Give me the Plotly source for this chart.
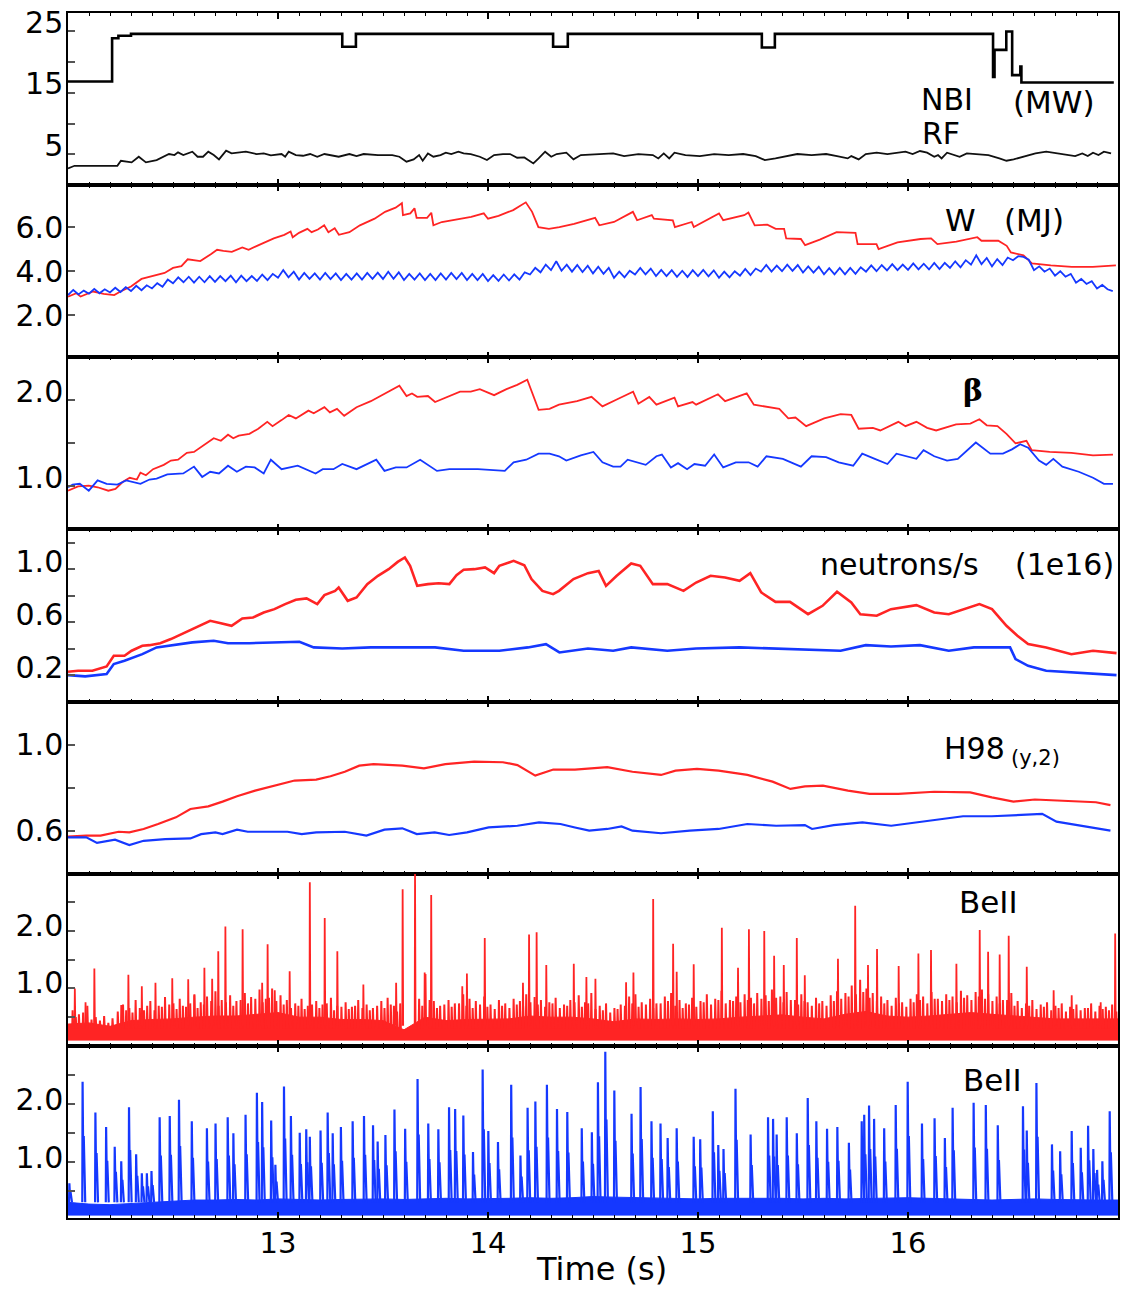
import numpy as np
import plotly.graph_objects as go
from plotly.subplots import make_subplots

FONT = "DejaVu Sans"
RED = "#ff2424"
BLUE = "#1538ff"

# ---------------- Panel 1: NBI / RF (MW) ----------------
nbi_t = [12.0, 12.21, 12.24, 12.30, 13.306, 13.371, 14.31, 14.38, 15.304, 15.366,
         16.405, 16.412, 16.468, 16.496, 16.535, 16.540, 16.98]
nbi_v = [16.85, 23.9, 24.3, 24.6, 22.5, 24.6, 22.5, 24.6, 22.4, 24.6,
         17.6, 22.0, 25.0, 17.9, 19.3, 16.7, 16.7]

rf_t = [12.000, 12.031, 12.116, 12.235, 12.252, 12.303, 12.337, 12.371, 12.422, 12.456,
        12.481, 12.507, 12.524, 12.549, 12.592, 12.617, 12.643, 12.668, 12.694, 12.719,
        12.753, 12.779, 12.813, 12.847, 12.898, 12.932, 12.966, 13.017, 13.034, 13.051,
        13.085, 13.119, 13.153, 13.187, 13.221, 13.272, 13.289, 13.340, 13.374, 13.408,
        13.476, 13.544, 13.578, 13.612, 13.646, 13.672, 13.689, 13.714, 13.740, 13.774,
        13.799, 13.825, 13.859, 13.884, 13.918, 13.961, 13.995, 14.029, 14.071, 14.105,
        14.139, 14.173, 14.216, 14.241, 14.272, 14.301, 14.327, 14.373, 14.407, 14.442,
        14.510, 14.596, 14.648, 14.716, 14.785, 14.811, 14.837, 14.863, 14.888, 14.940,
        15.009, 15.077, 15.146, 15.215, 15.275, 15.318, 15.369, 15.421, 15.473, 15.541,
        15.610, 15.662, 15.713, 15.730, 15.765, 15.799, 15.851, 15.902, 15.954, 15.988,
        16.022, 16.057, 16.091, 16.125, 16.143, 16.160, 16.186, 16.220, 16.246, 16.280,
        16.332, 16.383, 16.435, 16.469, 16.503, 16.555, 16.607, 16.658, 16.710, 16.761,
        16.796, 16.830, 16.856, 16.881, 16.907, 16.933, 16.967]
rf_v = [2.72, 3.15, 3.15, 3.15, 3.97, 3.70, 4.62, 3.70, 4.08, 4.62,
        5.06, 4.89, 5.33, 4.89, 5.44, 4.62, 4.62, 5.44, 4.89, 4.19,
        5.60, 5.17, 5.28, 5.44, 5.06, 5.17, 4.84, 5.06, 4.62, 5.44,
        4.89, 4.78, 5.06, 4.62, 5.06, 4.73, 4.62, 5.06, 4.73, 5.06,
        4.89, 4.89, 4.62, 3.81, 4.19, 4.89, 3.97, 5.17, 4.62, 4.89,
        5.28, 5.06, 5.44, 5.17, 5.06, 4.62, 4.08, 4.89, 5.06, 5.06,
        4.46, 4.51, 3.54, 4.35, 5.44, 4.62, 5.06, 5.28, 4.19, 4.89,
        5.06, 5.17, 4.73, 5.06, 4.89, 4.35, 5.17, 4.35, 5.28, 4.89,
        4.73, 5.06, 4.89, 5.06, 4.73, 4.08, 4.35, 4.73, 5.06, 4.89,
        5.06, 4.73, 4.35, 4.73, 4.19, 5.06, 5.28, 5.06, 5.28, 5.44,
        5.06, 5.55, 5.28, 4.62, 4.89, 4.35, 5.28, 4.89, 4.62, 5.17,
        5.06, 4.89, 4.35, 3.97, 4.19, 4.62, 5.17, 5.44, 5.17, 4.89,
        4.73, 5.17, 4.73, 5.28, 4.89, 5.44, 5.17]

# ---------------- Panel 2: W (MJ) ----------------
w_red_t = [12.00, 12.04, 12.06, 12.12, 12.17, 12.22, 12.25, 12.30, 12.35, 12.40,
           12.46, 12.50, 12.54, 12.57, 12.63, 12.68, 12.71, 12.74, 12.78, 12.83,
           12.86, 12.90, 12.95, 12.98, 13.03, 13.06, 13.07, 13.10, 13.14, 13.16,
           13.19, 13.22, 13.24, 13.27, 13.29, 13.34, 13.39, 13.46, 13.51, 13.56,
           13.59, 13.595, 13.63, 13.65, 13.66, 13.71, 13.73, 13.74, 13.78, 13.85,
           13.92, 13.98, 14.00, 14.05, 14.12, 14.18, 14.21, 14.24, 14.29, 14.34,
           14.41, 14.51, 14.53, 14.60, 14.69, 14.71, 14.78, 14.79, 14.88, 14.89,
           14.97, 14.98, 15.10, 15.12, 15.22, 15.24, 15.27, 15.33, 15.37, 15.41,
           15.42, 15.49, 15.51, 15.58, 15.66, 15.75, 15.76, 15.85, 15.86, 15.95,
           16.06, 16.11, 16.14, 16.23, 16.33, 16.35, 16.43, 16.47, 16.49, 16.55,
           16.59, 16.68, 16.78, 16.88, 16.99]
w_red_v = [2.85, 3.00, 2.85, 3.08, 2.97, 2.92, 3.08, 3.31, 3.65, 3.77,
           3.92, 4.15, 4.23, 4.54, 4.46, 4.77, 4.97, 4.92, 4.88, 5.08,
           4.97, 5.15, 5.38, 5.49, 5.65, 5.80, 5.54, 5.74, 5.92, 5.77,
           5.89, 6.08, 5.77, 5.95, 5.65, 5.77, 6.08, 6.38, 6.69, 6.88,
           7.08, 6.54, 6.62, 6.85, 6.42, 6.42, 6.65, 6.08, 6.23, 6.35,
           6.46, 6.62, 6.38, 6.51, 6.77, 7.12, 6.69, 6.00, 5.92, 6.00,
           6.15, 6.42, 6.08, 6.23, 6.69, 6.31, 6.54, 6.38, 6.31, 6.00,
           6.23, 6.00, 6.62, 6.31, 6.54, 6.66, 6.08, 6.11, 5.92, 5.92,
           5.49, 5.46, 5.18, 5.43, 5.77, 5.74, 5.23, 5.23, 5.00, 5.31,
           5.46, 5.49, 5.23, 5.34, 5.54, 5.38, 5.38, 5.15, 4.85, 4.72,
           4.35, 4.26, 4.20, 4.20, 4.26]

# blue W sampled every 0.025 s from 12.000 to 16.975
w_blue_v = [2.92, 3.15, 2.95, 3.12, 2.98, 3.20, 3.00, 3.18, 3.04, 3.25, 3.06, 3.28,
            3.10, 3.34, 3.14, 3.36, 3.22, 3.46, 3.30, 3.62, 3.45, 3.72, 3.50, 3.75,
            3.48, 3.75, 3.50, 3.78, 3.52, 3.78, 3.55, 3.80, 3.50, 3.80, 3.55, 3.78,
            3.56, 3.85, 3.60, 3.88, 3.70, 4.05, 3.72, 3.98, 3.62, 3.92, 3.65, 3.90,
            3.62, 3.92, 3.64, 3.90, 3.60, 3.88, 3.62, 3.90, 3.62, 3.92, 3.65, 3.93,
            3.65, 3.98, 3.66, 3.95, 3.60, 3.88, 3.62, 3.90, 3.60, 3.88, 3.60, 3.90,
            3.62, 3.92, 3.64, 3.92, 3.60, 3.88, 3.60, 3.88, 3.55, 3.82, 3.56, 3.85,
            3.58, 3.86, 3.62, 3.95, 3.85, 4.15, 3.95, 4.30, 4.05, 4.45, 4.02, 4.30,
            3.98, 4.28, 3.96, 4.25, 3.90, 4.20, 3.88, 4.15, 3.70, 3.98, 3.72, 4.02,
            3.85, 4.15, 3.86, 4.12, 3.78, 4.06, 3.78, 4.05, 3.75, 4.02, 3.74, 4.05,
            3.78, 4.06, 3.77, 4.04, 3.70, 3.98, 3.72, 4.00, 3.80, 4.10, 3.82, 4.12,
            3.98, 4.28, 3.98, 4.25, 4.00, 4.30, 4.02, 4.28, 3.94, 4.22, 3.94, 4.20,
            3.86, 4.14, 3.86, 4.15, 3.86, 4.15, 3.88, 4.18, 3.98, 4.26, 4.00, 4.28,
            4.04, 4.32, 4.05, 4.30, 4.06, 4.35, 4.08, 4.34, 4.08, 4.38, 4.10, 4.38,
            4.15, 4.45, 4.18, 4.50, 4.30, 4.72, 4.32, 4.60, 4.22, 4.55, 4.28, 4.62,
            4.50, 4.68, 4.65, 4.52, 4.05, 4.22, 3.98, 4.12, 3.80, 4.00, 3.75, 3.88,
            3.48, 3.65, 3.42, 3.55, 3.22, 3.38, 3.18, 3.10]
w_blue_t = list(np.round(12.0 + 0.025 * np.arange(len(w_blue_v)), 3))

# ---------------- Panel 3: beta ----------------
beta_red_t = [12.000, 12.048, 12.099, 12.141, 12.192, 12.226, 12.260, 12.294, 12.328, 12.345,
              12.371, 12.405, 12.456, 12.490, 12.524, 12.566, 12.600, 12.651, 12.694, 12.728,
              12.762, 12.787, 12.813, 12.864, 12.906, 12.949, 12.974, 13.017, 13.051, 13.085,
              13.145, 13.170, 13.221, 13.247, 13.281, 13.315, 13.374, 13.442, 13.510, 13.578,
              13.612, 13.638, 13.663, 13.714, 13.748, 13.799, 13.867, 13.918, 13.961, 14.029,
              14.088, 14.139, 14.187, 14.241, 14.293, 14.338, 14.424, 14.493, 14.545, 14.613,
              14.691, 14.716, 14.768, 14.802, 14.888, 14.905, 14.974, 14.991, 15.095, 15.129,
              15.232, 15.266, 15.318, 15.387, 15.430, 15.464, 15.515, 15.601, 15.679, 15.730,
              15.765, 15.833, 15.868, 15.954, 15.988, 16.040, 16.091, 16.134, 16.229, 16.297,
              16.340, 16.375, 16.426, 16.469, 16.512, 16.564, 16.589, 16.675, 16.778, 16.881,
              16.976]
beta_red_v = [0.95, 1.00, 1.01, 0.99, 0.95, 0.97, 1.05, 1.10, 1.08, 1.16,
              1.13, 1.20, 1.25, 1.30, 1.31, 1.39, 1.40, 1.49, 1.56, 1.53,
              1.60, 1.56, 1.59, 1.61, 1.67, 1.75, 1.70, 1.77, 1.83, 1.79,
              1.88, 1.85, 1.92, 1.86, 1.90, 1.82, 1.92, 1.99, 2.08, 2.17,
              2.05, 2.08, 2.04, 2.05, 1.98, 2.03, 2.10, 2.10, 2.13, 2.06,
              2.13, 2.18, 2.24, 1.89, 1.90, 1.95, 1.99, 2.04, 1.93, 2.01,
              2.10, 1.96, 2.04, 1.95, 2.03, 1.93, 1.98, 1.95, 2.07, 1.99,
              2.08, 1.95, 1.93, 1.90, 1.79, 1.80, 1.70, 1.79, 1.84, 1.83,
              1.67, 1.68, 1.65, 1.75, 1.70, 1.75, 1.68, 1.65, 1.72, 1.73,
              1.78, 1.71, 1.70, 1.61, 1.50, 1.53, 1.42, 1.40, 1.39, 1.36,
              1.37]
beta_blue_t = [12.000, 12.022, 12.056, 12.099, 12.141, 12.184, 12.235, 12.277, 12.345, 12.388,
               12.422, 12.473, 12.549, 12.600, 12.639, 12.677, 12.719, 12.762, 12.804, 12.847,
               12.889, 12.932, 12.966, 13.017, 13.094, 13.179, 13.213, 13.264, 13.306, 13.374,
               13.468, 13.507, 13.561, 13.612, 13.677, 13.757, 13.816, 13.884, 13.952, 14.080,
               14.122, 14.182, 14.241, 14.293, 14.338, 14.373, 14.442, 14.502, 14.545, 14.596,
               14.631, 14.665, 14.751, 14.802, 14.828, 14.871, 14.905, 14.948, 14.983, 15.034,
               15.077, 15.120, 15.180, 15.241, 15.284, 15.326, 15.404, 15.490, 15.541, 15.610,
               15.670, 15.739, 15.782, 15.842, 15.902, 15.945, 15.988, 16.040, 16.074, 16.125,
               16.186, 16.237, 16.323, 16.392, 16.452, 16.495, 16.534, 16.572, 16.624, 16.658,
               16.692, 16.735, 16.813, 16.881, 16.933, 16.976]
beta_blue_v = [0.99, 1.02, 1.03, 0.95, 1.07, 1.03, 1.02, 1.07, 1.03, 1.08,
               1.09, 1.14, 1.15, 1.23, 1.11, 1.17, 1.15, 1.24, 1.17, 1.23,
               1.22, 1.15, 1.31, 1.20, 1.24, 1.15, 1.20, 1.20, 1.26, 1.20,
               1.31, 1.18, 1.22, 1.22, 1.31, 1.18, 1.20, 1.20, 1.20, 1.18,
               1.28, 1.31, 1.38, 1.38, 1.35, 1.30, 1.36, 1.40, 1.28, 1.23,
               1.23, 1.31, 1.25, 1.35, 1.37, 1.22, 1.27, 1.20, 1.26, 1.24,
               1.37, 1.22, 1.28, 1.28, 1.23, 1.35, 1.32, 1.23, 1.35, 1.34,
               1.28, 1.24, 1.38, 1.32, 1.26, 1.38, 1.35, 1.32, 1.42, 1.35,
               1.30, 1.32, 1.51, 1.38, 1.38, 1.43, 1.49, 1.45, 1.30, 1.25,
               1.32, 1.23, 1.17, 1.10, 1.03, 1.03]

# ---------------- Panel 4: neutrons/s (1e16) ----------------
neut_red_t = [12.000, 12.048, 12.116, 12.184, 12.218, 12.269, 12.303, 12.354, 12.388, 12.439,
              12.490, 12.524, 12.575, 12.626, 12.677, 12.728, 12.779, 12.830, 12.881, 12.932,
              12.983, 13.034, 13.085, 13.136, 13.187, 13.221, 13.272, 13.289, 13.332, 13.374,
              13.425, 13.476, 13.527, 13.570, 13.604, 13.629, 13.663, 13.714, 13.765, 13.816,
              13.850, 13.884, 13.935, 13.986, 14.029, 14.054, 14.122, 14.173, 14.207, 14.259,
              14.310, 14.338, 14.407, 14.476, 14.527, 14.562, 14.613, 14.682, 14.725, 14.785,
              14.854, 14.931, 14.991, 15.060, 15.129, 15.198, 15.249, 15.301, 15.369, 15.438,
              15.524, 15.593, 15.662, 15.730, 15.773, 15.851, 15.919, 16.040, 16.125, 16.194,
              16.263, 16.340, 16.400, 16.469, 16.521, 16.572, 16.658, 16.778, 16.881, 16.993]
neut_red_v = [0.225, 0.233, 0.233, 0.265, 0.346, 0.346, 0.384, 0.421, 0.426, 0.441,
              0.472, 0.497, 0.535, 0.567, 0.610, 0.592, 0.572, 0.628, 0.635, 0.673,
              0.698, 0.736, 0.769, 0.779, 0.736, 0.804, 0.836, 0.862, 0.761, 0.786,
              0.887, 0.950, 1.000, 1.055, 1.088, 1.025, 0.874, 0.887, 0.894, 0.887,
              0.955, 0.995, 1.000, 1.013, 0.970, 1.025, 1.063, 1.030, 0.925, 0.836,
              0.811, 0.836, 0.925, 0.970, 0.987, 0.874, 0.950, 1.043, 1.025, 0.887,
              0.887, 0.836, 0.899, 0.950, 0.937, 0.912, 0.970, 0.824, 0.753, 0.753,
              0.660, 0.723, 0.829, 0.748, 0.660, 0.648, 0.698, 0.728, 0.673, 0.660,
              0.698, 0.736, 0.698, 0.572, 0.497, 0.434, 0.409, 0.358, 0.384, 0.366]
neut_blue_t = [12.000, 12.082, 12.184, 12.218, 12.269, 12.354, 12.422, 12.490, 12.592, 12.694,
               12.762, 12.864, 12.966, 13.102, 13.170, 13.306, 13.442, 13.544, 13.646, 13.748,
               13.884, 14.054, 14.190, 14.276, 14.340, 14.476, 14.596, 14.682, 14.854, 14.991,
               15.198, 15.369, 15.541, 15.679, 15.799, 15.919, 16.057, 16.194, 16.314, 16.486,
               16.512, 16.572, 16.658, 16.778, 16.881, 16.993]
neut_blue_v = [0.200, 0.190, 0.208, 0.283, 0.308, 0.358, 0.409, 0.426, 0.447, 0.459,
               0.441, 0.441, 0.447, 0.452, 0.409, 0.401, 0.409, 0.409, 0.409, 0.409,
               0.384, 0.384, 0.409, 0.434, 0.371, 0.401, 0.384, 0.409, 0.384, 0.401,
               0.409, 0.401, 0.396, 0.384, 0.426, 0.416, 0.426, 0.384, 0.409, 0.409,
               0.321, 0.270, 0.233, 0.220, 0.208, 0.200]

# ---------------- Panel 5: H98(y,2) ----------------
h98_red_t = [12.000, 12.087, 12.155, 12.241, 12.292, 12.360, 12.429, 12.514, 12.583, 12.668,
             12.736, 12.805, 12.891, 12.976, 13.079, 13.182, 13.250, 13.318, 13.387, 13.455,
             13.592, 13.695, 13.797, 13.934, 14.071, 14.140, 14.225, 14.311, 14.414, 14.568,
             14.688, 14.824, 14.893, 14.995, 15.098, 15.235, 15.355, 15.440, 15.509, 15.595,
             15.714, 15.817, 15.954, 16.125, 16.296, 16.399, 16.502, 16.604, 16.707, 16.810,
             16.895, 16.964]
h98_red_v = [0.572, 0.577, 0.577, 0.595, 0.592, 0.608, 0.631, 0.662, 0.701, 0.713,
             0.735, 0.760, 0.786, 0.806, 0.833, 0.837, 0.853, 0.874, 0.902, 0.909,
             0.902, 0.890, 0.909, 0.921, 0.918, 0.905, 0.856, 0.884, 0.884, 0.895,
             0.874, 0.859, 0.879, 0.887, 0.879, 0.859, 0.828, 0.794, 0.806, 0.809,
             0.786, 0.771, 0.771, 0.781, 0.778, 0.755, 0.735, 0.745, 0.740, 0.735,
             0.732, 0.719]
h98_blue_t = [12.000, 12.087, 12.138, 12.224, 12.292, 12.360, 12.463, 12.583, 12.634, 12.702,
              12.736, 12.805, 12.856, 12.942, 13.045, 13.113, 13.182, 13.318, 13.421, 13.507,
              13.592, 13.661, 13.746, 13.815, 13.900, 14.003, 14.140, 14.243, 14.345, 14.414,
              14.482, 14.568, 14.636, 14.688, 14.824, 14.961, 15.098, 15.235, 15.372, 15.509,
              15.543, 15.646, 15.783, 15.920, 16.057, 16.262, 16.399, 16.536, 16.639, 16.707,
              16.810, 16.964]
h98_blue_v = [0.569, 0.569, 0.543, 0.558, 0.533, 0.553, 0.561, 0.564, 0.584, 0.592,
              0.584, 0.605, 0.595, 0.595, 0.595, 0.584, 0.592, 0.595, 0.577, 0.605,
              0.611, 0.584, 0.592, 0.580, 0.592, 0.615, 0.623, 0.639, 0.631, 0.615,
              0.600, 0.608, 0.620, 0.600, 0.588, 0.600, 0.608, 0.631, 0.623, 0.626,
              0.608, 0.626, 0.639, 0.623, 0.642, 0.667, 0.667, 0.673, 0.678, 0.642,
              0.626, 0.600]

# ---------------- Panel 6: BeII (red) ----------------
band_t = list(np.round(np.linspace(12.0, 17.0, 51), 2))
bell_red_band = [0.38, 0.40, 0.34, 0.44, 0.46, 0.47, 0.50, 0.52, 0.52, 0.55,
                 0.58, 0.50, 0.50, 0.46, 0.46, 0.44, 0.28, 0.50, 0.44, 0.46,
                 0.47, 0.47, 0.52, 0.50, 0.50, 0.47, 0.42, 0.47, 0.46, 0.47,
                 0.46, 0.47, 0.50, 0.52, 0.54, 0.50, 0.47, 0.55, 0.60, 0.52,
                 0.50, 0.52, 0.55, 0.58, 0.55, 0.52, 0.50, 0.47, 0.47, 0.47, 0.47]
bell_red_floor = 0.10
bell_red_spk_t = [12.031, 12.082, 12.124, 12.252, 12.286, 12.350, 12.415, 12.495, 12.571, 12.600,
                  12.648, 12.685, 12.714, 12.748, 12.830, 12.923, 12.949, 12.983, 13.054, 13.150,
                  13.221, 13.281, 13.405, 13.561, 13.592, 13.651, 13.697, 13.728, 13.876, 13.898,
                  13.983, 14.165, 14.194, 14.230, 14.276, 14.407, 14.467, 14.510, 14.656, 14.691,
                  14.785, 14.880, 14.897, 14.978, 15.112, 15.189, 15.241, 15.314, 15.361, 15.407,
                  15.469, 15.507, 15.665, 15.747, 15.808, 15.851, 15.954, 16.048, 16.108, 16.229,
                  16.340, 16.380, 16.435, 16.478, 16.564, 16.692, 16.778, 16.916, 16.985]
bell_red_spk_h = [1.00, 0.76, 1.35, 0.71, 1.24, 1.04, 1.10, 1.18, 1.16, 0.88,
                  1.36, 1.17, 1.65, 2.08, 2.03, 1.10, 1.77, 0.97, 1.30, 2.85,
                  2.23, 1.65, 1.07, 1.10, 2.73, 3.05, 1.28, 2.63, 1.04, 1.26,
                  1.88, 1.10, 1.94, 1.98, 1.41, 1.43, 1.20, 1.17, 1.11, 1.28,
                  2.56, 1.78, 1.29, 1.42, 2.06, 1.36, 2.03, 2.00, 1.57, 1.41,
                  1.88, 1.23, 1.52, 2.44, 1.41, 1.69, 1.39, 1.61, 1.67, 1.43,
                  2.02, 1.64, 1.59, 1.92, 1.38, 0.97, 0.88, 0.76, 1.96]
bell_red_hair_t = [12.02, 12.05, 12.09, 12.13, 12.17, 12.21, 12.26, 12.29, 12.32, 12.36,
                   12.39, 12.43, 12.46, 12.50, 12.53, 12.56, 12.60, 12.63, 12.66, 12.70,
                   12.73, 12.77, 12.80, 12.84, 12.87, 12.91, 12.94, 12.97, 13.01, 13.04,
                   13.08, 13.11, 13.14, 13.18, 13.21, 13.25, 13.28, 13.32, 13.35, 13.38,
                   13.42, 13.45, 13.49, 13.52, 13.55, 13.58, 13.67, 13.70, 13.74, 13.77,
                   13.81, 13.84, 13.88, 13.91, 13.94, 13.98, 14.01, 14.05, 14.08, 14.12,
                   14.15, 14.18, 14.22, 14.25, 14.29, 14.32, 14.36, 14.39, 14.43, 14.46,
                   14.49, 14.53, 14.56, 14.60, 14.63, 14.67, 14.70, 14.73, 14.77, 14.80,
                   14.84, 14.87, 14.91, 14.94, 14.97, 15.01, 15.04, 15.08, 15.11, 15.15,
                   15.18, 15.22, 15.25, 15.28, 15.32, 15.35, 15.39, 15.42, 15.46, 15.49,
                   15.52, 15.56, 15.59, 15.63, 15.66, 15.70, 15.73, 15.77, 15.80, 15.83,
                   15.87, 15.90, 15.94, 15.97, 16.01, 16.04, 16.07, 16.11, 16.14, 16.18,
                   16.21, 16.25, 16.28, 16.32, 16.35, 16.38, 16.42, 16.45, 16.49, 16.52,
                   16.56, 16.59, 16.63, 16.66, 16.70, 16.73, 16.77, 16.80, 16.84, 16.87,
                   16.91, 16.94, 16.97]
bell_red_hair_h = [0.62, 0.55, 0.70, 0.50, 0.52, 0.48, 0.72, 0.66, 0.80, 0.62,
                   0.78, 0.70, 0.85, 0.74, 0.82, 0.68, 0.90, 0.76, 0.86, 0.95,
                   0.80, 0.88, 0.78, 0.92, 0.85, 0.98, 0.82, 1.00, 0.88, 0.80,
                   0.74, 0.82, 0.70, 0.78, 0.72, 0.84, 0.70, 0.76, 0.68, 0.80,
                   0.72, 0.66, 0.78, 0.84, 0.70, 0.74, 0.82, 1.25, 0.78, 0.70,
                   0.80, 0.74, 0.90, 0.82, 0.78, 0.86, 0.72, 0.80, 0.74, 0.82,
                   0.78, 0.90, 0.85, 0.80, 0.76, 0.84, 0.72, 0.80, 0.88, 0.76,
                   0.92, 0.70, 0.74, 0.66, 0.72, 0.86, 0.90, 0.76, 0.82, 0.74,
                   0.86, 0.92, 0.80, 0.74, 0.84, 0.78, 0.90, 0.82, 0.96, 0.80,
                   0.86, 0.90, 0.84, 0.92, 0.88, 0.98, 0.86, 0.94, 0.80, 0.90,
                   0.76, 0.84, 0.78, 0.88, 0.95, 0.92, 1.05, 1.15, 1.00, 0.92,
                   0.86, 0.80, 0.84, 0.76, 0.82, 0.90, 0.86, 0.94, 0.82, 0.90,
                   0.86, 0.96, 0.88, 0.94, 0.98, 0.90, 0.86, 0.80, 0.92, 0.78,
                   0.74, 0.80, 0.72, 0.76, 0.70, 0.74, 0.68, 0.72, 0.66, 0.74,
                   0.70, 0.68, 0.72]
bell_red_hair2_t = [12.035, 12.07, 12.11, 12.15, 12.19, 12.235, 12.275, 12.305, 12.34, 12.375,
                    12.41, 12.445, 12.48, 12.515, 12.545, 12.58, 12.615, 12.645, 12.68, 12.715,
                    12.75, 12.785, 12.82, 12.855, 12.89, 12.925, 12.955, 12.99, 13.025, 13.06,
                    13.095, 13.125, 13.16, 13.195, 13.23, 13.265, 13.30, 13.335, 13.365, 13.40,
                    13.435, 13.47, 13.505, 13.535, 13.565, 13.685, 13.72, 13.755, 13.79, 13.825,
                    13.86, 13.895, 13.925, 13.96, 13.995, 14.03, 14.065, 14.10, 14.135, 14.165,
                    14.20, 14.235, 14.27, 14.305, 14.34, 14.375, 14.41, 14.445, 14.475, 14.51,
                    14.545, 14.58, 14.615, 14.65, 14.685, 14.715, 14.75, 14.785, 14.82, 14.855,
                    14.89, 14.925, 14.955, 14.99, 15.025, 15.06, 15.095, 15.13, 15.165, 15.20,
                    15.235, 15.265, 15.30, 15.335, 15.37, 15.405, 15.44, 15.475, 15.505, 15.54,
                    15.575, 15.61, 15.645, 15.68, 15.715, 15.75, 15.785, 15.815, 15.85, 15.885,
                    15.92, 15.955, 15.99, 16.025, 16.055, 16.09, 16.125, 16.16, 16.195, 16.23,
                    16.265, 16.30, 16.335, 16.365, 16.40, 16.435, 16.47, 16.505, 16.54, 16.575,
                    16.61, 16.645, 16.68, 16.715, 16.75, 16.785, 16.82, 16.855, 16.89, 16.925,
                    16.955, 16.99]
bell_red_hair2_h = [0.50, 0.58, 0.46, 0.44, 0.40, 0.60, 0.62, 0.58, 0.66, 0.70,
                    0.62, 0.68, 0.72, 0.64, 0.70, 0.74, 0.66, 0.72, 0.78, 0.70,
                    0.76, 0.70, 0.80, 0.74, 0.82, 0.76, 0.84, 0.78, 0.72, 0.66,
                    0.70, 0.64, 0.72, 0.66, 0.74, 0.62, 0.68, 0.64, 0.70, 0.66,
                    0.62, 0.70, 0.66, 0.72, 0.60, 0.70, 0.80, 0.66, 0.72, 0.68,
                    0.74, 0.70, 0.66, 0.72, 0.68, 0.64, 0.70, 0.66, 0.72, 0.70,
                    0.76, 0.72, 0.68, 0.74, 0.66, 0.70, 0.76, 0.68, 0.74, 0.64,
                    0.62, 0.58, 0.64, 0.70, 0.74, 0.68, 0.72, 0.66, 0.74, 0.78,
                    0.70, 0.66, 0.72, 0.68, 0.76, 0.72, 0.80, 0.74, 0.78, 0.76,
                    0.80, 0.74, 0.82, 0.78, 0.84, 0.76, 0.80, 0.72, 0.78, 0.70,
                    0.74, 0.70, 0.78, 0.82, 0.86, 0.90, 0.94, 0.84, 0.78, 0.74,
                    0.70, 0.74, 0.68, 0.76, 0.80, 0.74, 0.82, 0.78, 0.80, 0.76,
                    0.84, 0.80, 0.86, 0.82, 0.78, 0.74, 0.80, 0.70, 0.66, 0.70,
                    0.64, 0.68, 0.62, 0.66, 0.60, 0.64, 0.62, 0.66, 0.60, 0.64,
                    0.62, 0.60]

# ---------------- Panel 7: BeII (blue, ELMs) ----------------
bell_blue_band = [0.30, 0.27, 0.26, 0.28, 0.30, 0.32, 0.34, 0.34, 0.35, 0.34,
                  0.36, 0.35, 0.34, 0.35, 0.36, 0.36, 0.35, 0.36, 0.37, 0.36,
                  0.36, 0.37, 0.38, 0.37, 0.38, 0.40, 0.39, 0.38, 0.38, 0.37,
                  0.36, 0.37, 0.37, 0.38, 0.37, 0.36, 0.37, 0.36, 0.37, 0.37,
                  0.38, 0.37, 0.36, 0.35, 0.34, 0.35, 0.36, 0.35, 0.34, 0.34, 0.34]
bell_blue_floor = 0.08
elm_t = [12.005, 12.068, 12.129, 12.180, 12.221, 12.252, 12.289, 12.323, 12.350, 12.374,
         12.396, 12.435, 12.483, 12.527, 12.588, 12.660, 12.701, 12.759, 12.786, 12.844,
         12.898, 12.923, 12.966, 12.986, 13.027, 13.060, 13.102, 13.133, 13.150, 13.201,
         13.235, 13.259, 13.298, 13.354, 13.408, 13.451, 13.473, 13.510, 13.553, 13.604,
         13.663, 13.714, 13.762, 13.813, 13.842, 13.881, 13.927, 13.973, 14.000, 14.046,
         14.109, 14.153, 14.187, 14.224, 14.279, 14.327, 14.376, 14.445, 14.493, 14.522,
         14.557, 14.600, 14.682, 14.725, 14.777, 14.820, 14.854, 14.897, 14.978, 15.009,
         15.069, 15.095, 15.120, 15.177, 15.249, 15.332, 15.356, 15.373, 15.421, 15.469,
         15.521, 15.562, 15.613, 15.662, 15.717, 15.778, 15.790, 15.813, 15.837, 15.885,
         15.940, 15.997, 16.065, 16.125, 16.174, 16.211, 16.311, 16.369, 16.426, 16.546,
         16.564, 16.610, 16.684, 16.723, 16.778, 16.821, 16.856, 16.881, 16.899, 16.924,
         16.959]
elm_h = [0.63, 2.38, 1.85, 1.60, 1.26, 1.01, 1.94, 1.13, 0.80, 0.80,
         0.84, 1.77, 1.79, 2.07, 1.70, 1.58, 1.66, 1.77, 1.49, 1.81,
         2.19, 2.03, 1.71, 0.95, 2.30, 1.79, 1.50, 1.56, 1.43, 1.54,
         1.85, 1.49, 1.60, 1.70, 1.79, 1.63, 1.35, 1.46, 1.90, 1.57,
         2.43, 1.66, 1.56, 1.94, 1.91, 1.80, 1.17, 2.59, 1.53, 1.34,
         2.33, 1.11, 1.93, 2.04, 2.33, 1.91, 1.86, 1.58, 1.51, 2.37,
         2.90, 2.23, 1.83, 2.29, 1.70, 1.66, 1.41, 1.58, 1.43, 1.39,
         1.87, 1.29, 1.22, 2.26, 1.47, 1.77, 1.74, 1.47, 1.77, 1.49,
         2.10, 1.70, 1.57, 1.60, 1.33, 1.70, 1.81, 1.97, 1.74, 1.58,
         1.98, 2.38, 1.66, 1.75, 1.41, 1.93, 2.02, 1.98, 1.63, 1.96,
         1.54, 2.36, 1.30, 1.18, 1.53, 1.24, 1.62, 1.22, 0.86, 1.01,
         1.87]

# ---------------- axes: ranges and tick labels ----------------
y_ranges = [[0, 28], [0.1, 7.9], [0.5, 2.5], [0, 1.3], [0.4, 1.2], [0, 3], [0.03, 3.0]]
y_tickvals = [[5, 10, 15, 20, 25], [2, 4, 6], [1.0, 1.5, 2.0],
              [0.2, 0.4, 0.6, 0.8, 1.0, 1.2], [0.6, 0.8, 1.0],
              [0.5, 1.0, 1.5, 2.0, 2.5], [0.5, 1.0, 1.5, 2.0, 2.5]]
y_ticktext = [["5", "", "15", "", "25"], ["2.0", "4.0", "6.0"], ["1.0", "", "2.0"],
              ["0.2", "", "0.6", "", "1.0", ""], ["0.6", "", "1.0"],
              ["", "1.0", "", "2.0", ""], ["", "1.0", "", "2.0", ""]]
y_label_shift = [-9, 0, -9, -8, 0, -6, -4]
x_range = [12.0, 17.0]
x_tickvals = [13, 14, 15, 16]

for a, b in [(rf_t, rf_v), (w_red_t, w_red_v), (beta_red_t, beta_red_v),
             (beta_blue_t, beta_blue_v), (neut_red_t, neut_red_v),
             (neut_blue_t, neut_blue_v), (h98_red_t, h98_red_v),
             (h98_blue_t, h98_blue_v), (band_t, bell_red_band), (band_t, bell_blue_band),
             (bell_red_spk_t, bell_red_spk_h), (bell_red_hair_t, bell_red_hair_h),
             (bell_red_hair2_t, bell_red_hair2_h), (elm_t, elm_h), (nbi_t, nbi_v)]:
    assert len(a) == len(b), (len(a), len(b))


def spike_path(ts, hs, base, shape):
    """Draw each spike (time, peak) as a short polyline rising from the base level."""
    xs, ys = [], []
    for t, h in zip(ts, hs):
        for dt, f in shape:
            xs.append(t + dt)
            ys.append(base + f * (h - base))
        xs.append(None)
        ys.append(None)
    return xs, ys


fig = make_subplots(rows=7, cols=1, shared_xaxes=True, vertical_spacing=0)

# Panel 1
fig.add_trace(go.Scatter(x=nbi_t, y=nbi_v, mode="lines", line=dict(color="black", width=2.6, shape="hv")), row=1, col=1)
fig.add_trace(go.Scatter(x=rf_t, y=rf_v, mode="lines", line=dict(color="#111111", width=1.8)), row=1, col=1)
# Panel 2
fig.add_trace(go.Scatter(x=w_red_t, y=w_red_v, mode="lines", line=dict(color=RED, width=1.8)), row=2, col=1)
fig.add_trace(go.Scatter(x=w_blue_t, y=w_blue_v, mode="lines", line=dict(color=BLUE, width=1.8)), row=2, col=1)
# Panel 3
fig.add_trace(go.Scatter(x=beta_red_t, y=beta_red_v, mode="lines", line=dict(color=RED, width=1.8)), row=3, col=1)
fig.add_trace(go.Scatter(x=beta_blue_t, y=beta_blue_v, mode="lines", line=dict(color=BLUE, width=1.8)), row=3, col=1)
# Panel 4
fig.add_trace(go.Scatter(x=neut_red_t, y=neut_red_v, mode="lines", line=dict(color=RED, width=2.6)), row=4, col=1)
fig.add_trace(go.Scatter(x=neut_blue_t, y=neut_blue_v, mode="lines", line=dict(color=BLUE, width=2.6)), row=4, col=1)
# Panel 5
fig.add_trace(go.Scatter(x=h98_red_t, y=h98_red_v, mode="lines", line=dict(color=RED, width=2.2)), row=5, col=1)
fig.add_trace(go.Scatter(x=h98_blue_t, y=h98_blue_v, mode="lines", line=dict(color=BLUE, width=2.2)), row=5, col=1)
# Panel 6
fig.add_trace(go.Scatter(x=band_t + band_t[::-1], y=bell_red_band + [bell_red_floor] * len(band_t),
                         mode="lines", fill="toself", fillcolor=RED, line=dict(color=RED, width=1)), row=6, col=1)
for ht, hh in [(bell_red_hair_t, bell_red_hair_h), (bell_red_hair2_t, bell_red_hair2_h)]:
    hx, hy = spike_path(ht, hh, 0.3, [(0, 0), (0.002, 1), (0.005, 0)])
    fig.add_trace(go.Scatter(x=hx, y=hy, mode="lines", line=dict(color=RED, width=2.0)), row=6, col=1)
sx, sy = spike_path(bell_red_spk_t, bell_red_spk_h, 0.35, [(0, 0), (0.0015, 1), (0.004, 0)])
fig.add_trace(go.Scatter(x=sx, y=sy, mode="lines", line=dict(color=RED, width=1.8)), row=6, col=1)
# Panel 7
fig.add_trace(go.Scatter(x=band_t + band_t[::-1], y=bell_blue_band + [bell_blue_floor] * len(band_t),
                         mode="lines", fill="toself", fillcolor=BLUE, line=dict(color=BLUE, width=1)), row=7, col=1)
ex, ey = spike_path(elm_t, elm_h, 0.3, [(0, 0), (0.0015, 1), (0.004, 0.45), (0.007, 0.55), (0.014, 0)])
fig.add_trace(go.Scatter(x=ex, y=ey, mode="lines", line=dict(color=BLUE, width=2.2)), row=7, col=1)

for i in range(7):
    r = i + 1
    fig.update_xaxes(range=x_range, showline=True, linecolor="black", linewidth=1.5,
                     mirror="allticks", ticks="inside", ticklen=6, tickwidth=1.5, tickcolor="black",
                     tickmode="array", tickvals=x_tickvals, ticktext=[str(v) for v in x_tickvals],
                     minor=dict(ticks="inside", ticklen=3, tickwidth=1, tickcolor="black",
                                dtick=0.1, tick0=12.0),
                     showgrid=False, zeroline=False, showticklabels=(r == 7), automargin=False,
                     ticklabelstandoff=-2,
                     tickfont=dict(family=FONT, size=29, color="black"), row=r, col=1)
    fig.update_yaxes(range=y_ranges[i], showline=True, linecolor="black", linewidth=1.5, mirror=True,
                     ticks="inside", ticklen=7, tickwidth=1.5, tickcolor="#555555",
                     tickmode="array", tickvals=y_tickvals[i], ticktext=y_ticktext[i],
                     ticklabelshift=y_label_shift[i], ticklabelstandoff=-3,
                     showgrid=False, zeroline=False, automargin=False,
                     tickfont=dict(family=FONT, size=30, color="black"), row=r, col=1)

L, R, T, B = 68, 1118, 13, 1218


def ann(text, px, py, size, xanchor="left", family=FONT, weight="normal"):
    return dict(text=text, x=(px - L) / (R - L), y=(B - py) / (B - T), xref="paper", yref="paper",
                xanchor=xanchor, yanchor="middle", showarrow=False,
                font=dict(family=family, size=size, color="black", weight=weight))


fig.update_layout(
    width=1126, height=1292, showlegend=False,
    margin=dict(l=L, r=1126 - R, t=T, b=1292 - B, autoexpand=False),
    paper_bgcolor="white", plot_bgcolor="white",
    annotations=[
        ann("NBI", 919, 100, 30),
        ann("(MW)", 1011, 102, 31),
        ann("RF", 920, 134, 30),
        ann("W", 943, 220, 31),
        ann("(MJ)", 1002, 220, 31),
        ann("β", 961, 390, 30, family="DejaVu Serif", weight="bold"),
        ann("neutrons/s", 818, 564, 30),
        ann("(1e16)", 1116, 564, 30, xanchor="right"),
        ann("H98", 942, 748, 30),
        ann("(y,2)", 1009, 758, 21),
        ann("BeII", 957, 902, 31),
        ann("BeII", 961, 1080, 31),
        ann("Time (s)", 601, 1269, 32, xanchor="center"),
    ],
)

# the page's default 8px body margin would push the 1126x1292 figure off the window
fig.write_html("out.html", config={"displayModeBar": False},
               post_script="document.body.style.margin='0px';")
